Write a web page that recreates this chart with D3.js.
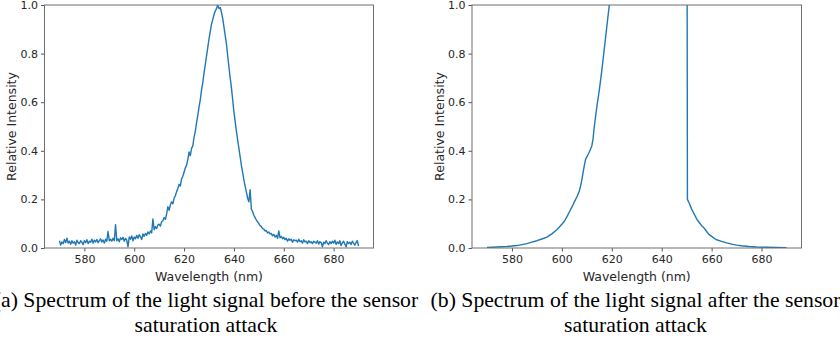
<!DOCTYPE html>
<html>
<head>
<meta charset="utf-8">
<script src="https://cdn.jsdelivr.net/npm/d3@7"></script>
<style>
  body { margin: 0; background: #fff; }
  svg { display: block; }
  .tick text { font-family: "DejaVu Sans", sans-serif; font-size: 11px; fill: #262626; }
  .tick line { stroke: #555; }
  .domain { display: none; }
</style>
</head>
<body>
<div id="chart"></div>
<script>
// shared axis settings
const xDomain = [564, 696];
const xTicks = [580, 600, 620, 640, 660, 680];
const yTicks = [0, 0.2, 0.4, 0.6, 0.8, 1.0];

// (a) before the attack: samples every 0.5 nm from 570 to 690
const beforeStart = 570, beforeStep = 0.5;
const beforeValues = [
  0.030, 0.012, 0.025, 0.018, 0.035, 0.022, 0.040, 0.020, 0.028, 0.015,
  0.030, 0.020, 0.026, 0.012, 0.032, 0.022, 0.018, 0.030, 0.024, 0.014,
  0.030, 0.022, 0.034, 0.018, 0.028, 0.024, 0.036, 0.020, 0.032, 0.025,
  0.035, 0.022, 0.030, 0.038, 0.025, 0.033, 0.020, 0.036, 0.028, 0.068,
  0.030, 0.036, 0.028, 0.040, 0.030, 0.096, 0.030, 0.038, 0.026, 0.042,
  0.035, 0.044, 0.028, 0.040, 0.032, 0.005, 0.045, 0.036, 0.050, 0.030,
  0.045, 0.038, 0.052, 0.040, 0.055, 0.046, 0.035, 0.058, 0.048, 0.060,
  0.052, 0.066, 0.058, 0.070, 0.062, 0.120, 0.075, 0.088, 0.080, 0.095,
  0.098, 0.090, 0.108, 0.112, 0.125, 0.118, 0.140, 0.170, 0.155, 0.178,
  0.190, 0.182, 0.205, 0.215, 0.232, 0.245, 0.262, 0.255, 0.285, 0.295,
  0.312, 0.330, 0.340, 0.365, 0.395, 0.380, 0.410, 0.420, 0.455, 0.480,
  0.515, 0.545, 0.580, 0.610, 0.650, 0.680, 0.720, 0.755, 0.790, 0.825,
  0.860, 0.890, 0.920, 0.940, 0.960, 0.975, 0.985, 1.000, 0.985, 0.990,
  0.970, 0.945, 0.910, 0.875, 0.840, 0.790, 0.745, 0.700, 0.660, 0.610,
  0.560, 0.520, 0.480, 0.445, 0.410, 0.375, 0.340, 0.310, 0.280, 0.255,
  0.230, 0.205, 0.190, 0.240, 0.160, 0.150, 0.135, 0.125, 0.115, 0.108,
  0.100, 0.092, 0.088, 0.080, 0.078, 0.070, 0.072, 0.062, 0.066, 0.058,
  0.060, 0.050, 0.056, 0.045, 0.052, 0.040, 0.070, 0.042, 0.048, 0.038,
  0.044, 0.034, 0.040, 0.028, 0.038, 0.032, 0.036, 0.024, 0.034, 0.030,
  0.032, 0.024, 0.036, 0.026, 0.030, 0.020, 0.034, 0.025, 0.028, 0.018,
  0.030, 0.022, 0.026, 0.018, 0.028, 0.024, 0.020, 0.030, 0.016, 0.026,
  0.022, 0.005, 0.024, 0.018, 0.030, 0.020, 0.014, 0.026, 0.018, 0.028,
  0.020, 0.032, 0.015, 0.025, 0.018, 0.030, 0.010, 0.022, 0.028, 0.016,
  0.005, 0.026, 0.018, 0.024, 0.014, 0.028, 0.020, 0.012, 0.022, 0.030,
  0.008
];

// (b) after the attack: saturated between ~619 and 650 nm
const afterWavelengths = [
  570, 572, 574, 576, 578, 580, 582, 584, 586, 588, 590, 592, 594, 596, 598,
  600, 601, 602, 603, 604, 605, 606, 607, 607.5, 608, 608.5, 609, 609.5, 610,
  610.5, 611, 612, 612.5, 613, 614, 615, 616, 617, 618, 619, 620, 625, 630,
  640, 645, 650, 650.2, 650.3, 651, 652, 653, 654, 655, 656, 657, 658, 659,
  660, 661, 662, 664, 666, 668, 670, 672, 675, 678, 682, 686, 690
];
const afterValues = [
  0.002, 0.003, 0.004, 0.005, 0.006, 0.008, 0.010, 0.014, 0.018, 0.024, 0.030, 0.037, 0.045, 0.058, 0.075,
  0.098, 0.110, 0.128, 0.148, 0.168, 0.190, 0.210, 0.235, 0.255, 0.280, 0.310, 0.340, 0.365, 0.375,
  0.385, 0.395, 0.420, 0.450, 0.500, 0.580, 0.650, 0.730, 0.820, 0.910, 1.000, 1.100, 1.600, 2.200,
  2.600, 2.400, 2.000, 0.945, 0.200, 0.185, 0.160, 0.140, 0.120, 0.105, 0.092, 0.082, 0.068, 0.055,
  0.048, 0.040, 0.034, 0.027, 0.021, 0.016, 0.012, 0.009, 0.006, 0.004, 0.003, 0.002, 0.001
];

const beforeData = beforeValues.map((v, i) => [beforeStart + i * beforeStep, v]);
const afterData = afterWavelengths.map((w, i) => [w, afterValues[i]]);

const width = 840, height = 351;
const plotTop = 5, plotBottom = 248;

const svg = d3.select("#chart").append("svg")
  .attr("width", width)
  .attr("height", height);

function drawPanel(id, data, left, right, yLabelX) {
  const x = d3.scaleLinear().domain(xDomain).range([left, right]);
  const y = d3.scaleLinear().domain([0, 1]).range([plotBottom, plotTop]);

  svg.append("clipPath").attr("id", id)
    .append("rect")
    .attr("x", left).attr("y", plotTop)
    .attr("width", right - left).attr("height", plotBottom - plotTop);

  const line = d3.line().x(d => x(d[0])).y(d => y(d[1]));

  svg.append("path")
    .datum(data)
    .attr("clip-path", `url(#${id})`)
    .attr("d", line)
    .attr("fill", "none")
    .attr("stroke", "#1f77b4")
    .attr("stroke-width", 1.4)
    .attr("stroke-linejoin", "round");

  svg.append("g")
    .attr("transform", `translate(0,${plotBottom})`)
    .call(d3.axisBottom(x).tickValues(xTicks).tickFormat(d3.format("d")).tickSize(3.5).tickPadding(3.5));

  svg.append("g")
    .attr("transform", `translate(${left},0)`)
    .call(d3.axisLeft(y).tickValues(yTicks).tickFormat(d3.format(".1f")).tickSize(3.5).tickPadding(3));

  // frame
  svg.append("rect")
    .attr("x", left).attr("y", plotTop)
    .attr("width", right - left).attr("height", plotBottom - plotTop)
    .attr("fill", "none")
    .attr("stroke", "#6e6e6e")
    .attr("stroke-width", 1);

  svg.append("text")
    .attr("x", (left + right) / 2)
    .attr("y", 281)
    .attr("text-anchor", "middle")
    .style("font-family", "DejaVu Sans, sans-serif")
    .style("font-size", "12.5px")
    .style("fill", "#262626")
    .text("Wavelength (nm)");

  svg.append("text")
    .attr("transform", `translate(${yLabelX},${(plotTop + plotBottom) / 2}) rotate(-90)`)
    .attr("text-anchor", "middle")
    .attr("dominant-baseline", "central")
    .style("font-family", "DejaVu Sans, sans-serif")
    .style("font-size", "12.5px")
    .style("fill", "#262626")
    .text("Relative Intensity");
}

drawPanel("clipA", beforeData, 44.5, 373.5, 11);
drawPanel("clipB", afterData, 472, 801.5, 439);

// captions
const captions = [
  { cx: 206, lines: ["(a) Spectrum of the light signal before the sensor", "saturation attack"] },
  { cx: 635.5, lines: ["(b) Spectrum of the light signal after the sensor", "saturation attack"] }
];

const capTexts = [];
captions.forEach(c => {
  c.lines.forEach((t, i) => {
    const el = svg.append("text")
      .attr("x", c.cx)
      .attr("y", i === 0 ? 307 : 332)
      .attr("text-anchor", "middle")
      .style("font-family", "Liberation Serif, serif")
      .style("font-size", "20px")
      .style("fill", "#000")
      .text(t);
    capTexts.push(el);
  });
});

// scale caption font so the (b) line spans ~410px like the reference
const measured = capTexts[2].node().getComputedTextLength();
const fs = 20 * 410 / measured;
capTexts.forEach(el => el.style("font-size", fs.toFixed(2) + "px"));
</script>
</body>
</html>
